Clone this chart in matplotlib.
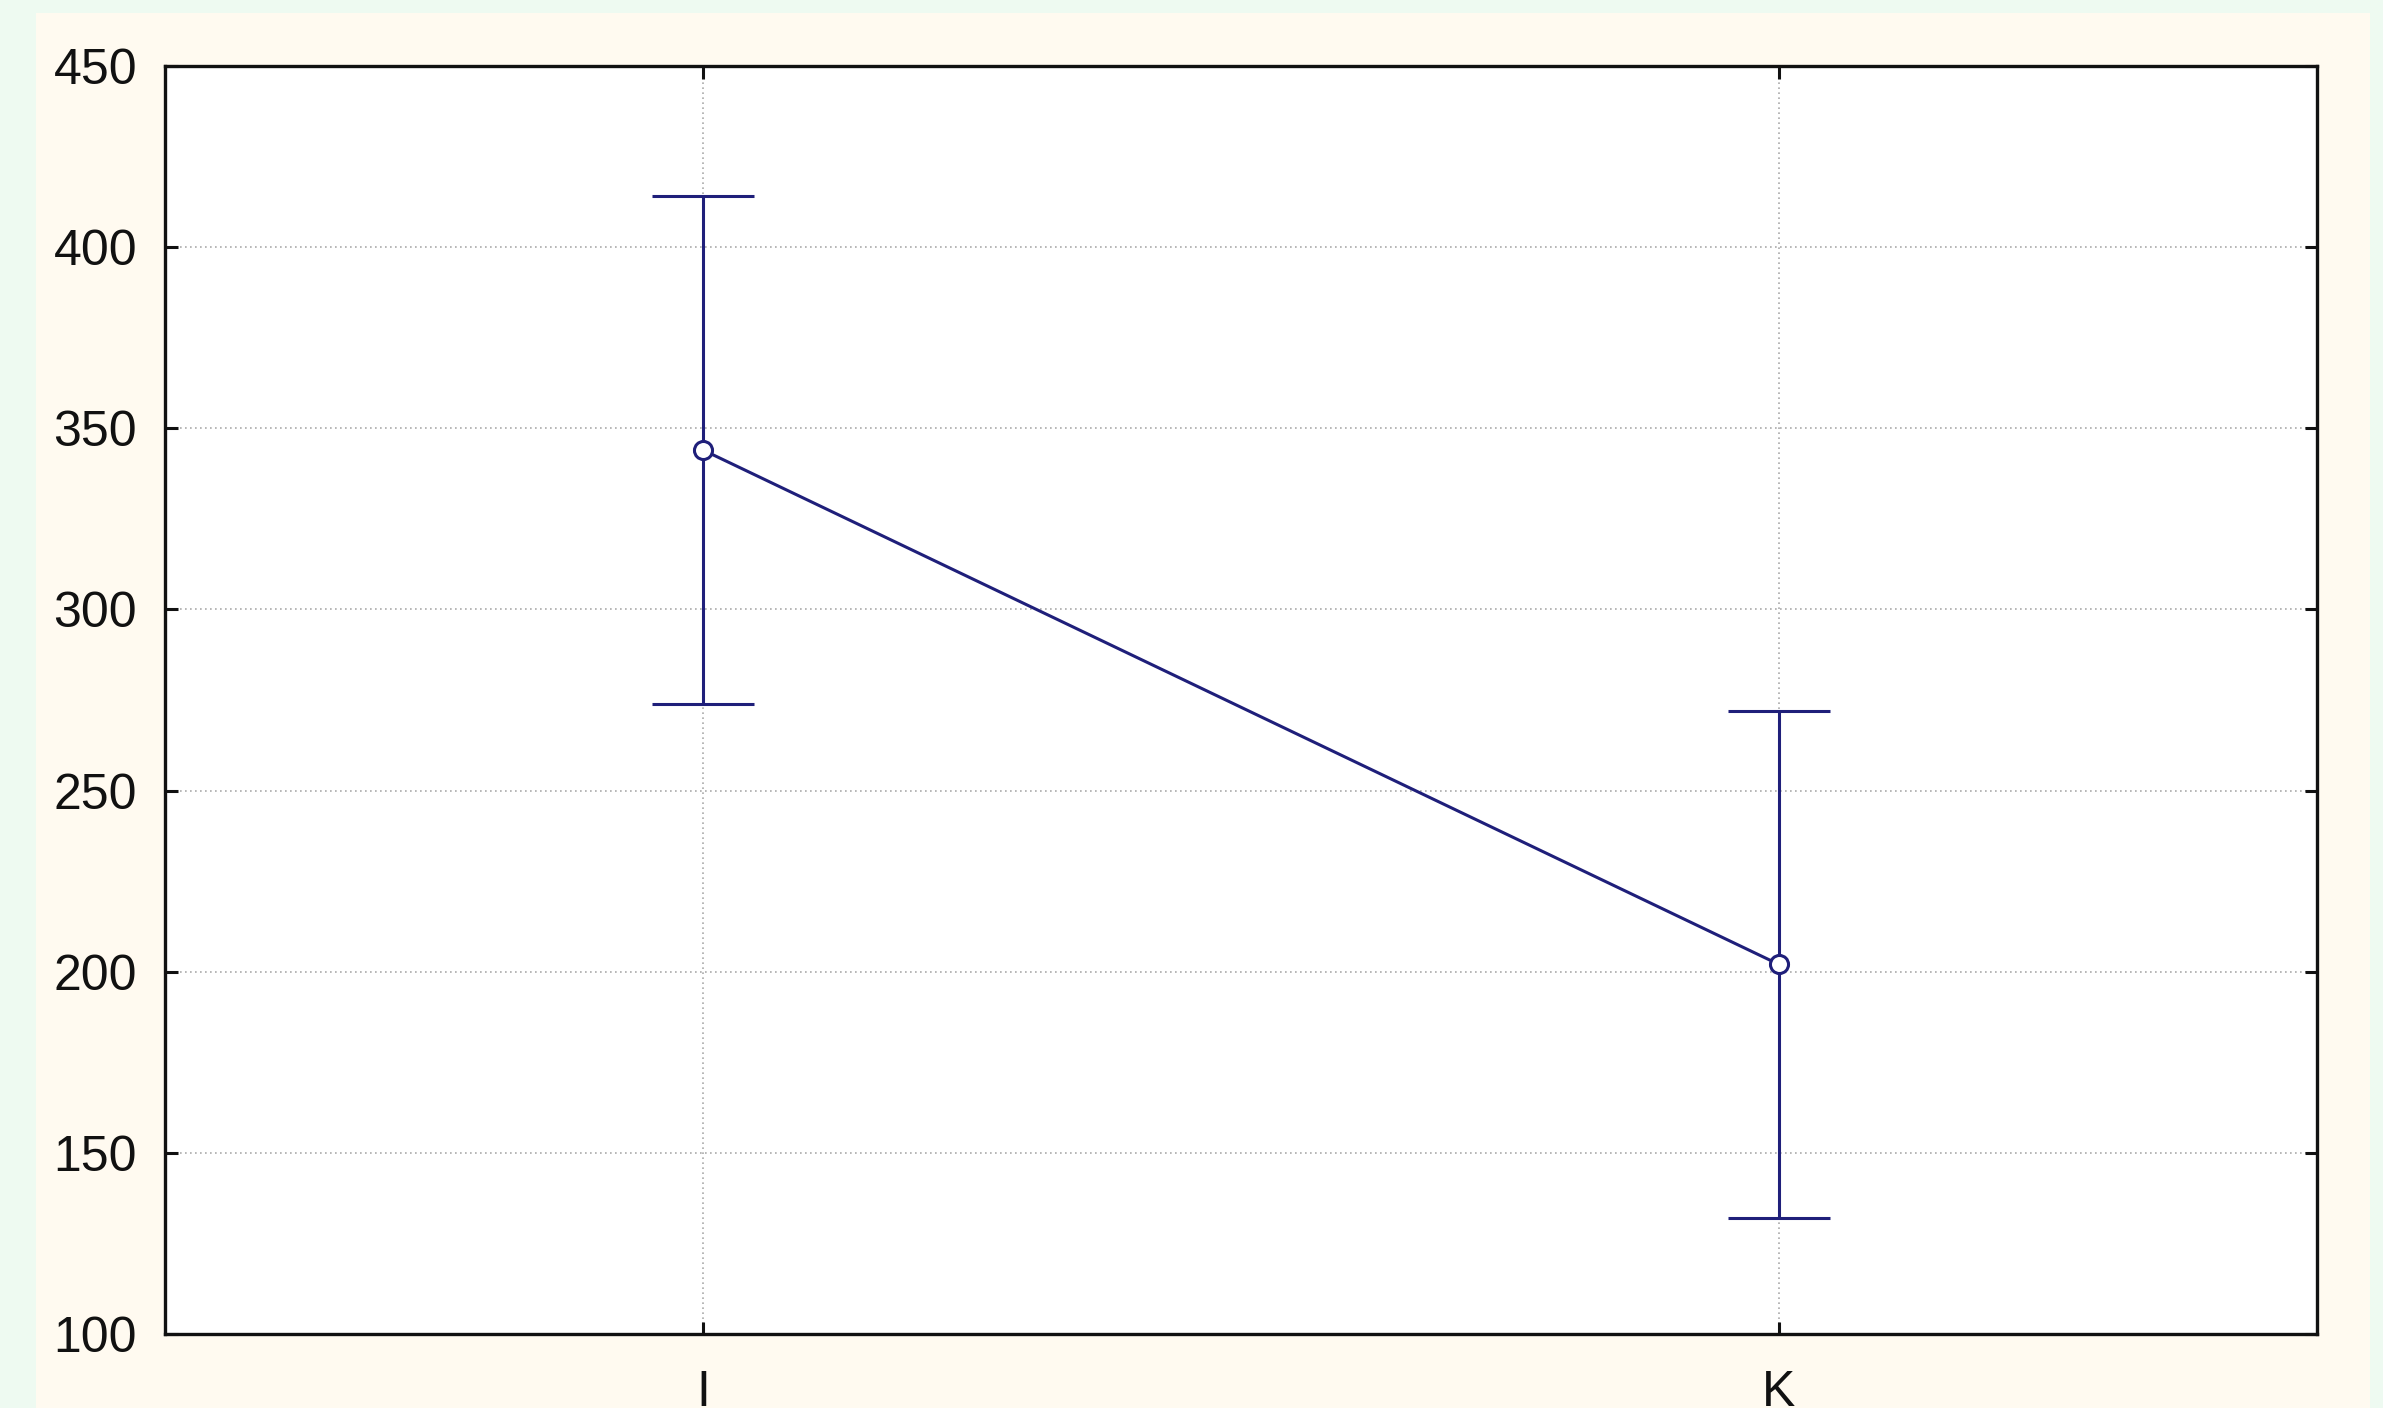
import matplotlib.pyplot as plt
from matplotlib.patches import Rectangle

groups = ["I", "K"]
means = [344, 202]
errors = [70, 70]
yticks = [100, 150, 200, 250, 300, 350, 400, 450]

W, H, DPI = 2383, 1408, 100
navy = "#1f1f7a"

fig = plt.figure(figsize=(W / DPI, H / DPI), dpi=DPI, facecolor="#eefaf1")
# cream inner panel, behind the axes
fig.patches.append(Rectangle((36 / W, 0), (2370 - 36) / W, 1 - 13 / H,
                             transform=fig.transFigure, facecolor="#fffaf0",
                             edgecolor="none", zorder=-10))

ax = fig.add_axes([165 / W, 1 - 1334 / H, (2317 - 165) / W, (1334 - 66) / H])
ax.set_facecolor("white")
ax.set_zorder(1)

x = list(range(len(groups)))
ax.errorbar(x, means, yerr=errors, color=navy, lw=2.2, capsize=37,
            capthick=2.2, marker="o", markersize=13, markerfacecolor="white",
            markeredgecolor=navy, markeredgewidth=2.2, zorder=3)

ax.set_xlim(-0.5, 1.5)
ax.set_ylim(100, 450)
ax.set_xticks(x)
ax.set_xticklabels(groups)
ax.set_yticks(yticks)
ax.grid(True, color="#aaaaaa", linestyle=(0, (1, 2)), lw=1.2)
ax.set_axisbelow(True)

for s in ax.spines.values():
    s.set_linewidth(2.4)
    s.set_color("#111111")

ax.tick_params(direction="in", length=9, width=2.2, top=True, right=True,
               labelsize=36, colors="#111111")
ax.tick_params(axis="y", pad=20)
ax.tick_params(axis="x", pad=26)
for lab in ax.get_xticklabels() + ax.get_yticklabels():
    lab.set_fontfamily("Liberation Sans")

fig.savefig("out.png", dpi=DPI, facecolor=fig.get_facecolor())
